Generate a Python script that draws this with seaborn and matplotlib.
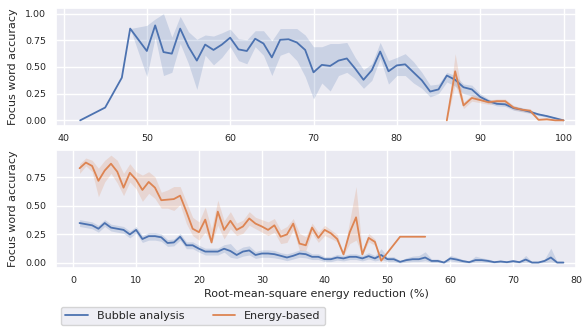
import numpy as np
import pandas as pd
import matplotlib
matplotlib.use("Agg")
import matplotlib.pyplot as plt
import seaborn as sns

# ---------------- data ----------------
series_names = ["Bubble analysis", "Energy-based"]
xlabel_text = "Root-mean-square energy reduction (%)"
ylabel_text = "Focus word accuracy"

# top panel, Bubble analysis
top_bubble_x = [42, 45, 47, 48, 50, 51, 52, 53, 54, 55, 56, 57, 58, 59, 60, 61, 62, 63, 64, 65,
                66, 67, 68, 69, 70, 71, 72, 73, 74, 75, 76, 77, 78, 79, 80, 81, 82, 83, 84, 85,
                86, 87, 88, 89, 90, 91, 92, 93, 94, 95, 96, 97, 98, 99, 100]
top_bubble_y = [0.00, 0.12, 0.40, 0.86, 0.65, 0.89, 0.64, 0.625, 0.86, 0.69, 0.56, 0.71, 0.66, 0.71, 0.775, 0.665, 0.65, 0.765, 0.72, 0.59,
                0.755, 0.76, 0.73, 0.66, 0.45, 0.52, 0.51, 0.56, 0.58, 0.485, 0.38, 0.47, 0.645, 0.46, 0.515, 0.525, 0.45, 0.375, 0.27, 0.29,
                0.42, 0.38, 0.31, 0.29, 0.22, 0.18, 0.155, 0.15, 0.115, 0.10, 0.08, 0.056, 0.04, 0.02, 0.00]
top_bubble_lo = [0.00, 0.12, 0.40, 0.86, 0.41, 0.78, 0.42, 0.45, 0.72, 0.53, 0.29, 0.61, 0.52, 0.59, 0.69, 0.56, 0.53, 0.69, 0.61, 0.42,
                 0.61, 0.64, 0.56, 0.41, 0.20, 0.35, 0.275, 0.42, 0.45, 0.39, 0.30, 0.375, 0.58, 0.34, 0.42, 0.42, 0.35, 0.30, 0.22, 0.25,
                 0.36, 0.32, 0.25, 0.23, 0.19, 0.16, 0.135, 0.13, 0.095, 0.08, 0.065, 0.045, 0.03, 0.012, 0.00]
top_bubble_hi = [0.00, 0.12, 0.40, 0.86, 0.89, 0.95, 1.00, 0.78, 0.975, 0.83, 0.76, 0.80, 0.79, 0.82, 0.855, 0.765, 0.755, 0.84, 0.84, 0.745,
                 0.86, 0.86, 0.86, 0.80, 0.69, 0.69, 0.72, 0.72, 0.73, 0.59, 0.475, 0.53, 0.73, 0.56, 0.59, 0.625, 0.55, 0.45, 0.33, 0.34,
                 0.45, 0.42, 0.34, 0.33, 0.25, 0.20, 0.175, 0.17, 0.135, 0.12, 0.095, 0.067, 0.05, 0.028, 0.00]

# top panel, Energy-based
top_energy_x = [86, 87, 88, 89, 90, 91, 92, 93, 94, 95, 96, 97, 98, 99, 100]
top_energy_y = [0.00, 0.46, 0.14, 0.21, 0.19, 0.17, 0.18, 0.18, 0.12, 0.10, 0.09, 0.005, 0.01, 0.00, 0.00]
top_energy_lo = [0.00, 0.34, 0.11, 0.18, 0.165, 0.15, 0.16, 0.16, 0.10, 0.085, 0.07, 0.00, 0.00, 0.00, 0.00]
top_energy_hi = [0.00, 0.625, 0.17, 0.24, 0.215, 0.19, 0.20, 0.20, 0.14, 0.115, 0.11, 0.01, 0.02, 0.00, 0.00]

# bottom panel, Bubble analysis
bot_bubble_x = [1, 2, 3, 4, 5, 6, 7, 8, 9, 10, 11, 12, 13, 14, 15, 16, 17, 18, 19, 20,
                21, 22, 23, 24, 25, 26, 27, 28, 29, 30, 31, 32, 33, 34, 35, 36, 37, 38, 39, 40,
                41, 42, 43, 44, 45, 46, 47, 48, 49, 50, 51, 52, 53, 54, 55, 56, 57, 58, 59, 60,
                61, 62, 63, 64, 65, 66, 67, 68, 69, 70, 71, 72, 73, 74, 75, 76, 77, 78]
bot_bubble_y = [0.35, 0.34, 0.33, 0.30, 0.35, 0.31, 0.30, 0.29, 0.25, 0.29, 0.21, 0.235, 0.235, 0.225, 0.175, 0.18, 0.23, 0.155, 0.155, 0.125,
                0.10, 0.10, 0.10, 0.125, 0.105, 0.07, 0.10, 0.11, 0.07, 0.083, 0.083, 0.077, 0.063, 0.048, 0.063, 0.083, 0.077, 0.054, 0.054, 0.033,
                0.033, 0.048, 0.04, 0.054, 0.054, 0.04, 0.06, 0.04, 0.07, 0.033, 0.033, 0.01, 0.025, 0.033, 0.033, 0.048, 0.018, 0.018, 0.004, 0.04,
                0.03, 0.016, 0.007, 0.025, 0.025, 0.018, 0.007, 0.013, 0.007, 0.016, 0.007, 0.03, 0.004, 0.004, 0.018, 0.048, 0.004, 0.004]
bot_bubble_lo = [0.32, 0.31, 0.30, 0.27, 0.32, 0.28, 0.27, 0.26, 0.22, 0.26, 0.18, 0.20, 0.20, 0.19, 0.145, 0.15, 0.20, 0.125, 0.125, 0.095,
                 0.07, 0.07, 0.07, 0.095, 0.05, 0.04, 0.06, 0.07, 0.04, 0.05, 0.05, 0.045, 0.035, 0.02, 0.035, 0.05, 0.045, 0.03, 0.03, 0.012,
                 0.012, 0.025, 0.018, 0.03, 0.03, 0.018, 0.035, 0.018, 0.03, 0.012, 0.012, 0.00, 0.008, 0.012, 0.012, 0.02, 0.004, 0.004, 0.00, 0.018,
                 0.01, 0.003, 0.00, 0.008, 0.008, 0.004, 0.00, 0.002, 0.00, 0.003, 0.00, 0.008, 0.00, 0.00, 0.004, 0.01, 0.00, 0.00]
bot_bubble_hi = [0.38, 0.37, 0.36, 0.33, 0.38, 0.34, 0.33, 0.32, 0.28, 0.32, 0.24, 0.265, 0.265, 0.255, 0.205, 0.21, 0.26, 0.185, 0.185, 0.155,
                 0.13, 0.13, 0.13, 0.16, 0.17, 0.11, 0.14, 0.15, 0.10, 0.115, 0.115, 0.11, 0.09, 0.08, 0.095, 0.115, 0.11, 0.08, 0.08, 0.055,
                 0.055, 0.075, 0.065, 0.08, 0.08, 0.065, 0.09, 0.065, 0.125, 0.055, 0.055, 0.02, 0.045, 0.06, 0.065, 0.098, 0.035, 0.035, 0.012, 0.066,
                 0.05, 0.03, 0.016, 0.06, 0.045, 0.035, 0.016, 0.025, 0.016, 0.03, 0.016, 0.066, 0.01, 0.01, 0.035, 0.13, 0.01, 0.004]

# bottom panel, Energy-based
bot_energy_x = [1, 2, 3, 4, 5, 6, 7, 8, 9, 10, 11, 12, 13, 14, 15, 16, 17, 18, 19, 20,
                21, 22, 23, 24, 25, 26, 27, 28, 29, 30, 31, 32, 33, 34, 35, 36, 37, 38, 39, 40,
                41, 42, 43, 44, 45, 46, 47, 48, 49, 52, 56]
bot_energy_y = [0.83, 0.88, 0.85, 0.72, 0.81, 0.87, 0.80, 0.66, 0.79, 0.73, 0.64, 0.71, 0.66, 0.55, 0.555, 0.56, 0.59, 0.45, 0.30, 0.27,
                0.38, 0.18, 0.45, 0.29, 0.37, 0.29, 0.32, 0.39, 0.345, 0.32, 0.29, 0.33, 0.23, 0.25, 0.345, 0.17, 0.155, 0.31, 0.22, 0.29,
                0.26, 0.21, 0.075, 0.27, 0.40, 0.075, 0.22, 0.185, 0.02, 0.23, 0.23]
bot_energy_lo = [0.785, 0.85, 0.80, 0.58, 0.71, 0.785, 0.70, 0.59, 0.71, 0.65, 0.54, 0.61, 0.565, 0.48, 0.48, 0.46, 0.51, 0.345, 0.24, 0.20,
                 0.27, 0.17, 0.33, 0.21, 0.30, 0.24, 0.26, 0.33, 0.30, 0.27, 0.24, 0.27, 0.17, 0.18, 0.29, 0.11, 0.11, 0.26, 0.18, 0.24,
                 0.215, 0.185, 0.07, 0.17, 0.20, 0.07, 0.185, 0.155, 0.02, 0.23, 0.23]
bot_energy_hi = [0.87, 0.92, 0.90, 0.83, 0.90, 0.945, 0.90, 0.785, 0.87, 0.80, 0.77, 0.80, 0.755, 0.62, 0.64, 0.67, 0.67, 0.535, 0.40, 0.36,
                 0.49, 0.30, 0.55, 0.37, 0.45, 0.35, 0.375, 0.45, 0.40, 0.38, 0.36, 0.39, 0.29, 0.32, 0.39, 0.26, 0.23, 0.35, 0.27, 0.33,
                 0.29, 0.25, 0.08, 0.375, 0.67, 0.10, 0.26, 0.21, 0.02, 0.23, 0.23]

top_xticks = [40, 50, 60, 70, 80, 90, 100]
top_yticks = [0.00, 0.25, 0.50, 0.75, 1.00]
bot_xticks = [0, 10, 20, 30, 40, 50, 60, 70, 80]
bot_yticks = [0.00, 0.25, 0.50, 0.75]

# ---------------- style ----------------
sns.set_theme(style="darkgrid")
plt.rcParams["font.family"] = ["DejaVu Sans"]
palette = sns.color_palette("deep")
colors = {series_names[0]: palette[0], series_names[1]: palette[1]}

W, H = 584, 327
fig = plt.figure(figsize=(W / 100, H / 100), dpi=100)
L, R = 56 / W, 576 / W
ax_top = fig.add_axes([L, 1 - 126 / H, R - L, 118 / H])
ax_bot = fig.add_axes([L, 1 - 268 / H, R - L, 118 / H])


def draw(ax, x, y, lo, hi, name):
    df = pd.DataFrame({"x": x, "y": y, "series": name})
    sns.lineplot(data=df, x="x", y="y", hue="series", palette=colors, ax=ax,
                 linewidth=1.3, legend=True)
    ax.fill_between(x, lo, hi, color=colors[name], alpha=0.2, linewidth=0)


draw(ax_top, top_bubble_x, top_bubble_y, top_bubble_lo, top_bubble_hi, series_names[0])
draw(ax_top, top_energy_x, top_energy_y, top_energy_lo, top_energy_hi, series_names[1])
draw(ax_bot, bot_bubble_x, bot_bubble_y, bot_bubble_lo, bot_bubble_hi, series_names[0])
draw(ax_bot, bot_energy_x, bot_energy_y, bot_energy_lo, bot_energy_hi, series_names[1])

ax_top.set_xlim(39.1, 101.5)
ax_top.set_ylim(-0.053, 1.053)
ax_top.set_xticks(top_xticks)
ax_top.set_yticks(top_yticks)
ax_top.set_xticklabels([str(t) for t in top_xticks])
ax_top.set_yticklabels([f"{t:.2f}" for t in top_yticks])
ax_top.set_xlabel("")

ax_bot.set_xlim(-2.75, 79.9)
ax_bot.set_ylim(-0.044, 0.99)
ax_bot.set_xticks(bot_xticks)
ax_bot.set_yticks(bot_yticks)
ax_bot.set_xticklabels([str(t) for t in bot_xticks])
ax_bot.set_yticklabels([f"{t:.2f}" for t in bot_yticks])
ax_bot.set_xlabel(xlabel_text, fontsize=8)

for ax in (ax_top, ax_bot):
    ax.set_ylabel(ylabel_text, fontsize=8)
    ax.tick_params(axis="x", labelsize=6.8, length=0, pad=6)
    ax.tick_params(axis="y", labelsize=6.8, length=0, pad=7)
    ax.yaxis.set_label_coords(-0.073, 0.5)
    ax.get_legend().remove()

ax_bot.xaxis.set_label_coords(0.5, -0.18)

handles, labels = ax_bot.get_legend_handles_labels()
fig.legend(handles, labels, loc="upper left", bbox_to_anchor=(61 / W, 1 - 306.5 / H),
           ncol=2, fontsize=8, frameon=True, borderaxespad=0, columnspacing=2.6)

fig.savefig("out.png", dpi=100)
